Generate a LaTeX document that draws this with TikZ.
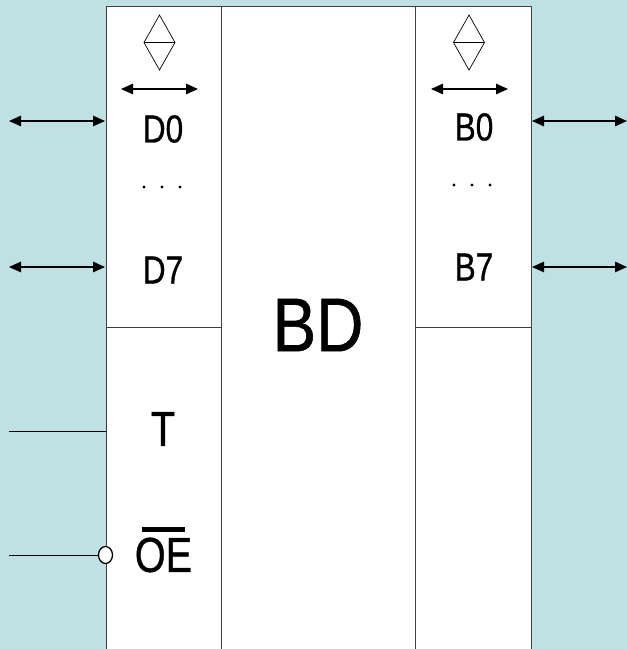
\documentclass[tikz,border=0pt]{standalone}
\usepackage{fontspec}
\usepackage{graphicx}
\setmainfont[FakeBold=0.9]{Liberation Sans}
\usetikzlibrary{arrows.meta,shapes.geometric}
\definecolor{bgteal}{HTML}{BFE1E3}
\tikzset{
  x=1pt,y=-1pt,
  boxline/.style={draw=black!75,line width=1pt},
  wire/.style={draw=black,line width=1pt},
  biarrow/.style={draw=black,line width=1.2pt,{Triangle[length=12pt,width=10.5pt]}-{Triangle[length=12pt,width=10.5pt]}},
  thin line/.style={draw=black,line width=.7pt},
  lab/.style={inner sep=0pt,font=\fontsize{39}{39}\selectfont},
  biglab/.style={inner sep=0pt,font=\fontsize{49}{49}\selectfont},
  dotlab/.style={circle,fill=black,inner sep=0pt,minimum size=3.4pt},
}
\newcommand{\sq}[1]{\scalebox{0.81}[1]{#1}}
\begin{document}
\begin{tikzpicture}
\useasboundingbox (0,0) rectangle (627,649);
\fill[bgteal] (0,0) rectangle (627,649);
\fill[white] (106,6) rectangle (531,649);
% body
\coordinate (tl) at (106,6); \coordinate (tr) at (531,6);
\coordinate (bl) at (106,649); \coordinate (br) at (531,649);
\coordinate (m1t) at (221,6); \coordinate (m1b) at (221,649);
\coordinate (m2t) at (415,6); \coordinate (m2b) at (415,649);
\coordinate (hl) at (106,327); \coordinate (hlr) at (221,327);
\coordinate (hr) at (415,327); \coordinate (hrr) at (531,327);
\draw[boxline] (bl) -- (tl) -- (tr) -- (br);
\draw[boxline] (m1t) -- (m1b);
\draw[boxline] (m2t) -- (m2b);
\draw[boxline] (hl) -- (hlr);
\draw[boxline] (hr) -- (hrr);
% labels
\node[lab] (d0) at (163,129) {\sq{D0}};
\node[lab] (d7) at (163,270) {\sq{D7}};
\node[lab] (b0) at (474,127) {\sq{B0}};
\node[lab] (b7) at (474,267) {\sq{B7}};
\node[biglab] (t) at (163,429) {\sq{T}};
\node[biglab] (oe) at (163.5,555) {\sq{OE}};
\node[inner sep=0pt,font=\fontsize{76}{76}\selectfont] (bd) at (318,325) {\scalebox{0.86}[1]{BD}};
\coordinate (oba) at (142,529.5); \coordinate (obb) at (185,529.5);
\draw[black,line width=4.5pt] (oba) -- (obb);
% dots
\foreach \n/\x/\y in {a/144/187,b/162/187,c/180/187,d/454/185,e/472/185,f/490/185}
  \node[dotlab] (dot\n) at (\x,\y) {};
% diamonds
\foreach \n/\x in {l/159.5,r/469}{
  \coordinate (\n top) at (\x,15);
  \coordinate (\n bot) at (\x,70);
  \coordinate (\n w) at (\x-15.5,42.5);
  \coordinate (\n e) at (\x+15.5,42.5);
  \draw[thin line] (\n top) -- (\n e) -- (\n bot) -- (\n w) -- cycle;
  \draw[thin line] (\n w) -- (\n e);
}
% arrows
\coordinate (ia) at (121,89); \coordinate (ib) at (198,89);
\coordinate (ic) at (431,89); \coordinate (id) at (508,89);
\draw[biarrow] (ia) -- (ib);
\draw[biarrow] (ic) -- (id);
\coordinate (la0) at (9,121); \coordinate (lb0) at (105,121);
\coordinate (la7) at (9,267); \coordinate (lb7) at (105,267);
\coordinate (ra0) at (532,121); \coordinate (rb0) at (627,121);
\coordinate (ra7) at (532,267); \coordinate (rb7) at (627,267);
\draw[biarrow] (la0) -- (lb0);
\draw[biarrow] (la7) -- (lb7);
\draw[biarrow] (ra0) -- (rb0);
\draw[biarrow] (ra7) -- (rb7);
% control inputs
\coordinate (ta) at (9,431); \coordinate (tb) at (106,431);
\draw[wire] (ta) -- (tb);
\coordinate (oa) at (9,555);
\node[ellipse,draw=black,line width=1.3pt,fill=white,inner sep=0pt,minimum width=14pt,minimum height=17pt] (bub) at (105.5,555) {};
\draw[wire] (oa) -- (bub);
\end{tikzpicture}
\end{document}
